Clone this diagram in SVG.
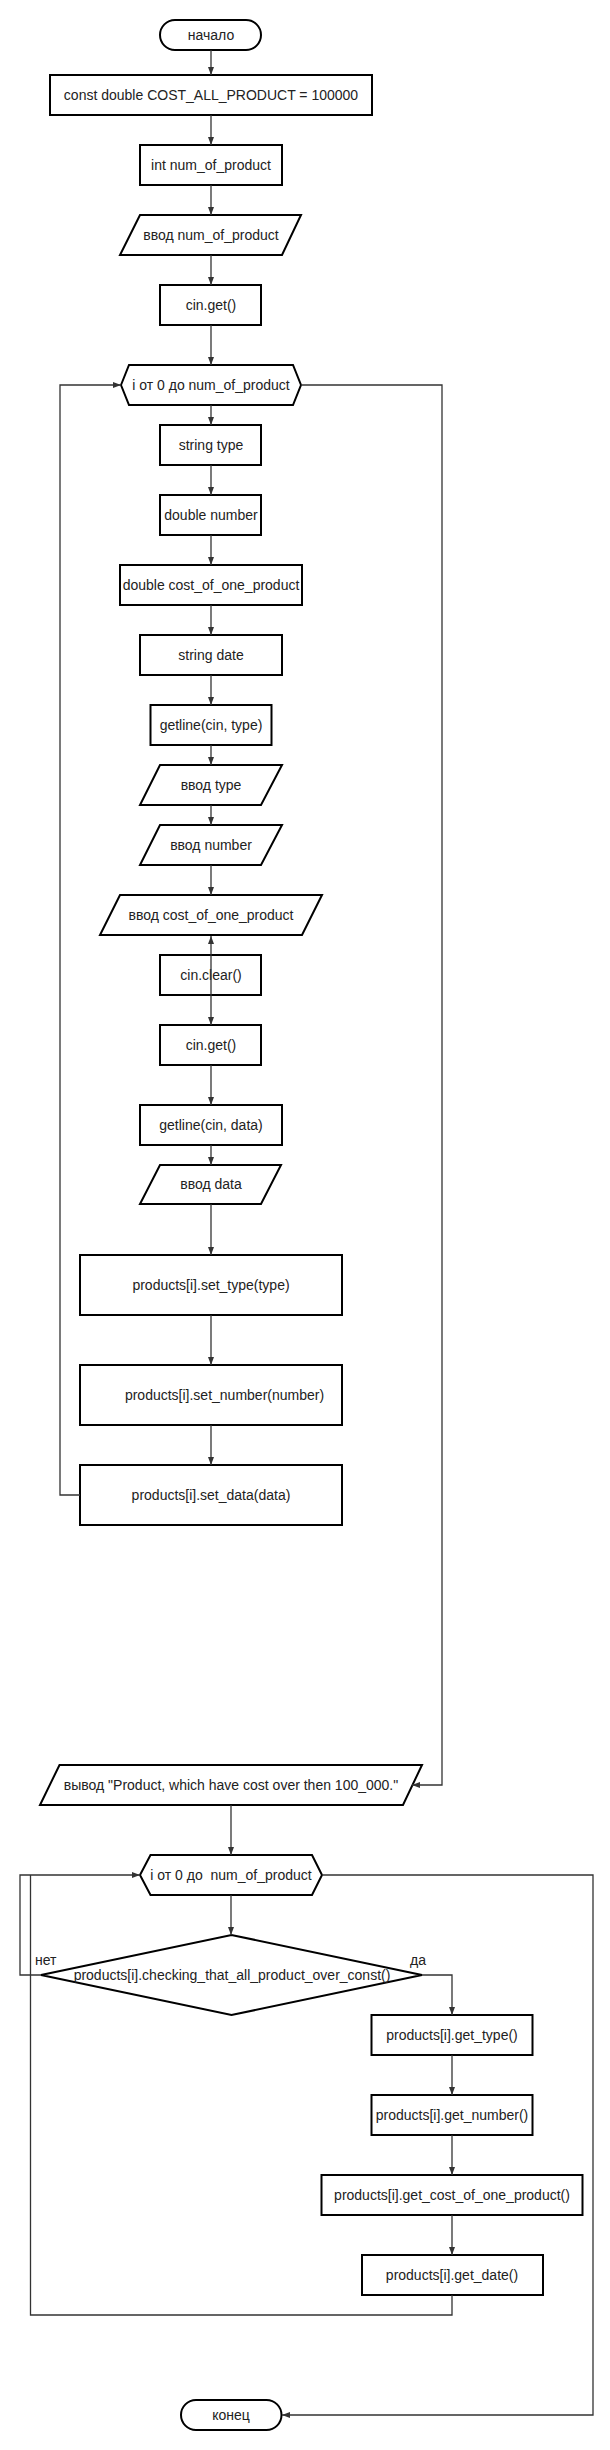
<svg xmlns="http://www.w3.org/2000/svg" width="610" height="2450" viewBox="0 0 610 2450">
<defs>
<style>
.n{fill:#fff;stroke:#000;stroke-width:2}
.t{font-family:"Liberation Sans",Arial,sans-serif;font-size:14px;fill:#222;text-anchor:middle;dominant-baseline:central;white-space:pre}
.l{font-family:"Liberation Sans",Arial,sans-serif;font-size:14px;fill:#222}
.c{fill:none;stroke:#333;stroke-width:1.3}
</style>
<marker id="a" viewBox="0 0 8 6" refX="8" refY="3" markerWidth="8" markerHeight="6" markerUnits="userSpaceOnUse" orient="auto-start-reverse"><path d="M0,0 L8,3 L0,6 z" fill="#333"/></marker>
</defs>
<rect width="610" height="2450" fill="#fff"/>
<g id="start"><rect class="n" x="160" y="20" width="101" height="30" rx="15"/><text class="t" x="211" y="35">начало</text></g>
<g id="const"><rect class="n" x="50" y="75" width="322" height="40"/><text class="t" x="211" y="95">const double COST_ALL_PRODUCT = 100000</text></g>
<g id="int"><rect class="n" x="140" y="145" width="142" height="40"/><text class="t" x="211" y="165">int num_of_product</text></g>
<g id="in_num"><polygon class="n" points="140,215 301,215 282,255 120,255"/><text class="t" x="211" y="235">ввод num_of_product</text></g>
<g id="cinget1"><rect class="n" x="160" y="285" width="101" height="40"/><text class="t" x="211" y="305">cin.get()</text></g>
<g id="loop1"><polygon class="n" points="121,385 129,365 293,365 301,385 293,405 129,405"/><text class="t" x="211" y="385">i от 0 до num_of_product</text></g>
<g id="strtype"><rect class="n" x="160" y="425" width="101" height="40"/><text class="t" x="211" y="445">string type</text></g>
<g id="dblnum"><rect class="n" x="160" y="495" width="101" height="40"/><text class="t" x="211" y="515">double number</text></g>
<g id="dblcost"><rect class="n" x="120" y="565" width="182" height="40"/><text class="t" x="211" y="585">double cost_of_one_product</text></g>
<g id="strdate"><rect class="n" x="140" y="635" width="142" height="40"/><text class="t" x="211" y="655">string date</text></g>
<g id="getline1"><rect class="n" x="150.5" y="705" width="121" height="40"/><text class="t" x="211" y="725">getline(cin, type)</text></g>
<g id="in_type"><polygon class="n" points="160,765 282,765 261,805 140,805"/><text class="t" x="211" y="785">ввод type</text></g>
<g id="in_number"><polygon class="n" points="160,825 282,825 261,865 140,865"/><text class="t" x="211" y="845">ввод number</text></g>
<g id="in_cost"><polygon class="n" points="120,895 322,895 302,935 100,935"/><text class="t" x="211" y="915">ввод cost_of_one_product</text></g>
<g id="cinclear"><rect class="n" x="160" y="955" width="101" height="40"/><text class="t" x="211" y="975">cin.clear()</text></g>
<g id="cinget2"><rect class="n" x="160" y="1025" width="101" height="40"/><text class="t" x="211" y="1045">cin.get()</text></g>
<g id="getline2"><rect class="n" x="140" y="1105" width="142" height="40"/><text class="t" x="211" y="1125">getline(cin, data)</text></g>
<g id="in_data"><polygon class="n" points="160,1165 281,1165 261,1204 140,1204"/><text class="t" x="211" y="1184">ввод data</text></g>
<g id="settype"><rect class="n" x="80" y="1255" width="262" height="60"/><text class="t" x="211" y="1285">products[i].set_type(type)</text></g>
<g id="setnumber"><rect class="n" x="80" y="1365" width="262" height="60"/><text class="t" x="224.5" y="1395">products[i].set_number(number)</text></g>
<g id="setdata"><rect class="n" x="80" y="1465" width="262" height="60"/><text class="t" x="211" y="1495">products[i].set_data(data)</text></g>
<g id="out"><polygon class="n" points="59.5,1765 422,1765 403,1805 40,1805"/><text class="t" x="231" y="1785">вывод "Product, which have cost over then 100_000."</text></g>
<g id="loop2"><polygon class="n" points="140,1875 150.5,1855 312,1855 322,1875 312,1895 150.5,1895"/><text class="t" x="231" y="1875">i от 0 до  num_of_product</text></g>
<g id="check"><polygon class="n" points="41,1975 231.5,1935 422,1975 231.5,2015"/><text class="t" x="232" y="1975">products[i].checking_that_all_product_over_const()</text></g>
<g id="gettype"><rect class="n" x="371.5" y="2015" width="161" height="40"/><text class="t" x="452" y="2035">products[i].get_type()</text></g>
<g id="getnumber"><rect class="n" x="371.5" y="2095" width="161" height="40"/><text class="t" x="452" y="2115">products[i].get_number()</text></g>
<g id="getcost"><rect class="n" x="321.5" y="2175" width="261" height="40"/><text class="t" x="452" y="2195">products[i].get_cost_of_one_product()</text></g>
<g id="getdate"><rect class="n" x="362" y="2255" width="181" height="40"/><text class="t" x="452" y="2275">products[i].get_date()</text></g>
<g id="end"><rect class="n" x="181" y="2400" width="100.5" height="30" rx="15"/><text class="t" x="231" y="2415">конец</text></g>
<g id="connectors">
<path class="c" marker-end="url(#a)" d="M211,50V75"/>
<path class="c" marker-end="url(#a)" d="M211,115V145"/>
<path class="c" marker-end="url(#a)" d="M211,185V215"/>
<path class="c" marker-end="url(#a)" d="M211,255V285"/>
<path class="c" marker-end="url(#a)" d="M211,325V365"/>
<path class="c" marker-end="url(#a)" d="M211,405V425"/>
<path class="c" marker-end="url(#a)" d="M211,465V495"/>
<path class="c" marker-end="url(#a)" d="M211,535V565"/>
<path class="c" marker-end="url(#a)" d="M211,605V635"/>
<path class="c" marker-end="url(#a)" d="M211,675V705"/>
<path class="c" marker-end="url(#a)" d="M211,745V765"/>
<path class="c" marker-end="url(#a)" d="M211,805V825"/>
<path class="c" marker-end="url(#a)" d="M211,865V895"/>
<path class="c" marker-start="url(#a)" marker-end="url(#a)" d="M211,936V1025"/>
<path class="c" marker-end="url(#a)" d="M211,1065V1105"/>
<path class="c" marker-end="url(#a)" d="M211,1145V1165"/>
<path class="c" marker-end="url(#a)" d="M211,1204V1255"/>
<path class="c" marker-end="url(#a)" d="M211,1315V1365"/>
<path class="c" marker-end="url(#a)" d="M211,1425V1465"/>
<path class="c" marker-end="url(#a)" d="M80,1495H60V385H121"/>
<path class="c" marker-end="url(#a)" d="M301,385H442V1785H412"/>
<path class="c" marker-end="url(#a)" d="M231,1805V1855"/>
<path class="c" marker-end="url(#a)" d="M231,1895V1935"/>
<path class="c" marker-end="url(#a)" d="M41,1975H20V1875H140"/>
<path class="c" marker-end="url(#a)" d="M422,1975H452V2015"/>
<path class="c" marker-end="url(#a)" d="M452,2055V2095"/>
<path class="c" marker-end="url(#a)" d="M452,2135V2175"/>
<path class="c" marker-end="url(#a)" d="M452,2215V2255"/>
<path class="c" d="M452,2295V2315H30.5V1875"/>
<path class="c" marker-end="url(#a)" d="M322,1875H593V2415H282"/>
</g>
<text class="l" x="35" y="1965">нет</text>
<text class="l" x="410" y="1965">да</text>
</svg>
